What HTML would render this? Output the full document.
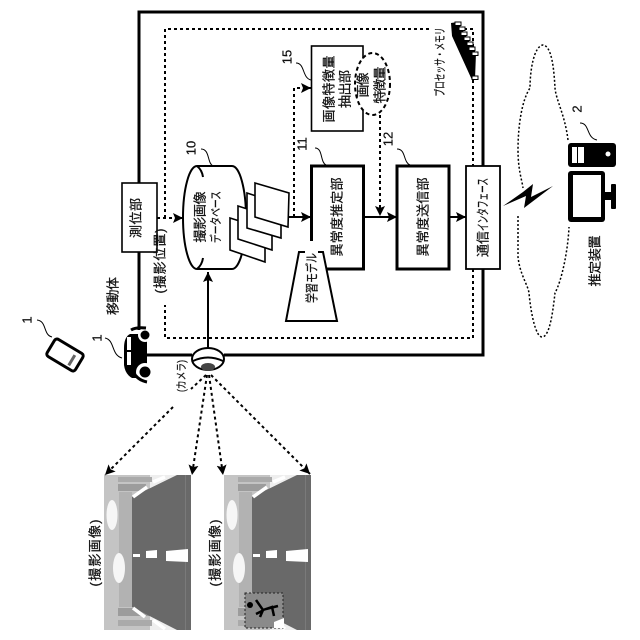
<!DOCTYPE html>
<html><head><meta charset="utf-8"><style>
html,body{margin:0;padding:0;background:#fff}
svg{display:block;filter:blur(.3px)}
text{font-family:"Liberation Sans","Noto Sans CJK JP",sans-serif;fill:#111;stroke:#111;stroke-width:.25;text-anchor:middle;dominant-baseline:central}
</style></head><body>
<svg width="640" height="640" viewBox="0 0 640 640" xmlns="http://www.w3.org/2000/svg">
<defs>
<marker id="a" markerUnits="userSpaceOnUse" markerWidth="12" markerHeight="12" refX="10" refY="5" orient="auto"><path d="M0,0L10,5L0,10L2,5z" fill="#000"/></marker>
<g id="photo">
<rect x="104" y="475" width="87" height="155" fill="#c4c4c4"/>
<rect x="150" y="475" width="30" height="155" fill="#eee"/>
<rect x="119" y="492" width="13" height="115" fill="#b2b2b2"/>
<rect x="118" y="477" width="34" height="5" fill="#aaa"/>
<rect x="118" y="484" width="28" height="7" fill="#9c9c9c"/>
<rect x="118" y="608" width="34" height="8" fill="#9c9c9c"/>
<rect x="118" y="620" width="34" height="6" fill="#aaa"/>
<polygon points="132,497 177,475 191,475 191,630 177,630 132,607" fill="#696969"/>
<rect x="185" y="475" width="1" height="155" fill="#7a7a7a"/>
<ellipse cx="112" cy="515" rx="5.500" ry="15" fill="#f6f6f6"/>
<ellipse cx="119" cy="568" rx="6" ry="15" fill="#f6f6f6"/>
<polygon points="133,554 140,554 140,557 133,557" fill="#fff"/>
<polygon points="146,551 157,550 157,558 146,558" fill="#fff"/>
<polygon points="166,551 188,549 188,562 166,561" fill="#fff"/>
<path d="M133,497L147,487M153,482L165,477M133,608L145,617M153,620L165,629" stroke="#fff" stroke-width="3.500"/>
</g>
</defs>

<use href="#photo"/>
<use href="#photo" x="120"/>
<rect x="245" y="593" width="38" height="35" fill="#8a8a8a" stroke="#222" stroke-width="1" stroke-dasharray="2 2"/>
<circle cx="250" cy="605" r="3" fill="#000"/>
<path d="M256,600L263,610L260,617M263,610L272,607L274,616M262,611L256,614M266,609L278,606" stroke="#000" stroke-width="2.500" fill="none"/>
<path d="M274,622L284,618L284,628L274,628z" fill="#fff"/>

<!-- outer box -->
<path d="M139,183V12H483V166M483,269V355H224M192,355H147M139,252V330" fill="none" stroke="#000" stroke-width="3"/>
<!-- inner dashed -->
<path d="M165,218V29H432M452,29H473V166M473,269V338H165V305" fill="none" stroke="#000" stroke-width="2" stroke-dasharray="3 3"/>

<!-- database -->
<path d="M197,166H232A14,51.500 0 0 1 232,269H197A14,51.500 0 0 1 197,166Z" fill="#fff" stroke="#000" stroke-width="2"/>
<path d="M197,166Q202,170 203,177M197,269Q202,265 203,258" fill="none" stroke="#000" stroke-width="2"/>
<polygon points="230,218 265,229 265,262 230,250" fill="#fff" stroke="#000" stroke-width="1.600"/>
<polygon points="238,206 272,217 272,250 238,239" fill="#fff" stroke="#000" stroke-width="1.600"/>
<polygon points="247,193 281,204 281,238 247,228" fill="#fff" stroke="#000" stroke-width="1.600"/>
<polygon points="255,183 289,193 288,227 255,217" fill="#fff" stroke="#000" stroke-width="1.600"/>

<!-- boxes -->
<rect x="122" y="183" width="35" height="69" fill="#fff" stroke="#000" stroke-width="1.600"/>
<rect x="311.500" y="46" width="51.500" height="85" fill="#fff" stroke="#000" stroke-width="1.600"/>
<rect x="311.500" y="166" width="52" height="103" fill="#fff" stroke="#000" stroke-width="3"/>
<rect x="397" y="166" width="52" height="103" fill="#fff" stroke="#000" stroke-width="3"/>
<rect x="466" y="166" width="34" height="103" fill="#fff" stroke="#000" stroke-width="1.800"/>
<rect x="305" y="241" width="18" height="30" fill="#fff"/>
<polygon points="299,252 323,252 337,321 286,321" fill="#fff" stroke="#000" stroke-width="2"/>
<rect x="305" y="249" width="13" height="6" fill="#fff"/>
<ellipse cx="372.500" cy="84" rx="17.500" ry="31" fill="#fff" stroke="#000" stroke-width="2" stroke-dasharray="4 3"/>

<!-- connectors -->
<path d="M208,348V272" stroke="#000" stroke-width="2" fill="none" marker-end="url(#a)"/>
<path d="M157,218H183" stroke="#000" stroke-width="2" stroke-dasharray="3 3" fill="none" marker-end="url(#a)"/>
<path d="M289,217H311" stroke="#000" stroke-width="2" fill="none" marker-end="url(#a)"/>
<path d="M294,217V88H311" stroke="#000" stroke-width="2" stroke-dasharray="3 3" fill="none" marker-end="url(#a)"/>
<path d="M380,115V216" stroke="#000" stroke-width="2" stroke-dasharray="3 3" fill="none" marker-end="url(#a)"/>
<path d="M363,217H397" stroke="#000" stroke-width="2" fill="none" marker-end="url(#a)"/>
<path d="M449,217H466" stroke="#000" stroke-width="2" fill="none" marker-end="url(#a)"/>

<!-- rays -->
<g stroke="#000" stroke-width="2" stroke-dasharray="3 3" fill="none">
<path d="M206,375L191,389M173,407L105,475" marker-end="url(#a)"/>
<path d="M207,375L192,475" marker-end="url(#a)"/>
<path d="M209,375L223,475" marker-end="url(#a)"/>
<path d="M211,375L310,474" marker-end="url(#a)"/>
</g>

<!-- processor -->
<polygon points="451,23 458,22 476,53 475,79 472,80 452,36" fill="#000"/>
<g fill="#fff" stroke="#000" stroke-width="1">
<rect x="455" y="22" width="6" height="3.500"/><rect x="459" y="27" width="6" height="3.500"/><rect x="461" y="32" width="6" height="3.500"/><rect x="464" y="37" width="6" height="3.500"/><rect x="467" y="42" width="6" height="3.500"/><rect x="469" y="47" width="6" height="3.500"/><rect x="472" y="52" width="6" height="3.500"/><rect x="472" y="76" width="6" height="3.500"/>
</g>

<!-- cloud -->
<path d="M568,140C565,115 556,100 555,88C554,70 552,46 543,45C534,46 530,70 530,88C522,100 518,125 518,150C518,170 522,180 523,188M518,216C518,235 518,250 518,257C520,275 528,285 529,293C531,315 536,337 542,337C550,337 553,310 555,293C562,280 568,250 569,227" fill="none" stroke="#000" stroke-width="1.500" stroke-dasharray="2 2"/>
<polygon points="503,206 523,192 533,184 531,197 553,186 524,208 526,196" fill="#000"/>

<!-- device -->
<rect x="568" y="143" width="48" height="24" rx="3" fill="#000"/>
<rect x="572" y="147" width="5" height="16" fill="#fff"/><rect x="578" y="147" width="6" height="16" fill="#fff"/>
<circle cx="608" cy="154" r="2.500" fill="#fff"/>
<rect x="568" y="171" width="37" height="51" rx="3" fill="#000"/>
<rect x="573" y="175" width="28" height="42" fill="#fff"/>
<rect x="605" y="192" width="7" height="8" fill="#000"/>
<rect x="611" y="184" width="5" height="25" rx="1" fill="#000"/>

<!-- phone -->
<g transform="rotate(31 65 355)">
<rect x="48.500" y="345" width="33" height="20" rx="3" fill="#fff" stroke="#000" stroke-width="3"/>
<rect x="72" y="350" width="3" height="12" fill="#666"/>
</g>

<!-- car -->
<path d="M147,334H130Q124,337 124,348V365Q125,374 132,378H147Z" fill="#000"/>
<rect x="127" y="337" width="4" height="13" fill="#fff"/>
<rect x="127" y="352" width="4" height="13" fill="#fff"/>
<circle cx="145" cy="335" r="7" fill="#fff"/><circle cx="145" cy="335" r="4.500" fill="#000"/>
<circle cx="145" cy="372" r="9" fill="#fff"/><circle cx="145" cy="372" r="5.500" fill="#000"/>
<path d="M131,368Q136,380 147,382" stroke="#000" stroke-width="3" fill="none"/>
<path d="M131,330Q136,327 146,328" stroke="#000" stroke-width="3" fill="none"/>

<!-- camera -->
<ellipse cx="208" cy="359" rx="16" ry="11" fill="#fff" stroke="#000" stroke-width="2"/>
<path d="M193,361Q208,354 223,361" fill="none" stroke="#000" stroke-width="2"/>
<ellipse cx="208" cy="367" rx="7" ry="4" fill="#444"/>

<!-- leaders -->
<g fill="none" stroke="#000" stroke-width="1">
<path d="M296,63C305,63 302,78 311,80"/>
<path d="M201,149C210,149 207,163 213,166"/>
<path d="M315,148C323,148 320,162 326,165"/>
<path d="M397,149C406,149 403,162 410,165"/>
<path d="M580,123C590,123 586,138 597,140"/>
<path d="M105,338C115,340 111,355 122,358"/>
<path d="M37,320C47,321 43,335 52,337"/>
</g>

<!-- text -->
<g font-size="13">
<text transform="translate(136 218) rotate(-90)" textLength="40">測位部</text>
<text transform="translate(200 217) rotate(-90)" textLength="51">撮影画像</text>
<text transform="translate(216 217) rotate(-90)" textLength="52" lengthAdjust="spacingAndGlyphs" font-size="12">データベース</text>
<text transform="translate(337 217) rotate(-90)" textLength="79">異常度推定部</text>
<text transform="translate(423 217) rotate(-90)" textLength="79">異常度送信部</text>
<text transform="translate(483 244) rotate(-90)" textLength="26">通信</text>
<text transform="translate(483 204.500) rotate(-90)" textLength="53" lengthAdjust="spacingAndGlyphs">インタフェース</text>
<text transform="translate(329 89) rotate(-90)" textLength="67">画像特徴量</text>
<text transform="translate(345 89) rotate(-90)" textLength="38">抽出部</text>
<text transform="translate(363 85) rotate(-90)" textLength="25">画像</text>
<text transform="translate(380 85) rotate(-90)" textLength="37">特徴量</text>
<text transform="translate(312 278) rotate(-90)" textLength="50" lengthAdjust="spacingAndGlyphs">学習モデル</text>
<text transform="translate(440 62) rotate(-90)" textLength="69" lengthAdjust="spacingAndGlyphs" font-size="12">プロセッサ・メモリ</text>
<text transform="translate(160 261) rotate(-90)" textLength="65">(撮影位置)</text>
<text transform="translate(113 296) rotate(-90)" textLength="38">移動体</text>
<text transform="translate(182 376) rotate(-90)" textLength="32" lengthAdjust="spacingAndGlyphs" font-size="11">(カメラ)</text>
<text transform="translate(95 553) rotate(-90)" textLength="67">(撮影画像)</text>
<text transform="translate(215 553) rotate(-90)" textLength="67">(撮影画像)</text>
<text transform="translate(595 261) rotate(-90)" textLength="51">推定装置</text>
</g>
<g font-size="13">
<text transform="translate(287 57) rotate(-90)">15</text>
<text transform="translate(191 148) rotate(-90)">10</text>
<text transform="translate(302 144) rotate(-90)">11</text>
<text transform="translate(388 139) rotate(-90)">12</text>
<text transform="translate(577 109) rotate(-90)">2</text>
<text transform="translate(97 338) rotate(-90)">1</text>
<text transform="translate(27 320) rotate(-90)">1</text>
</g>
</svg>
</body></html>
